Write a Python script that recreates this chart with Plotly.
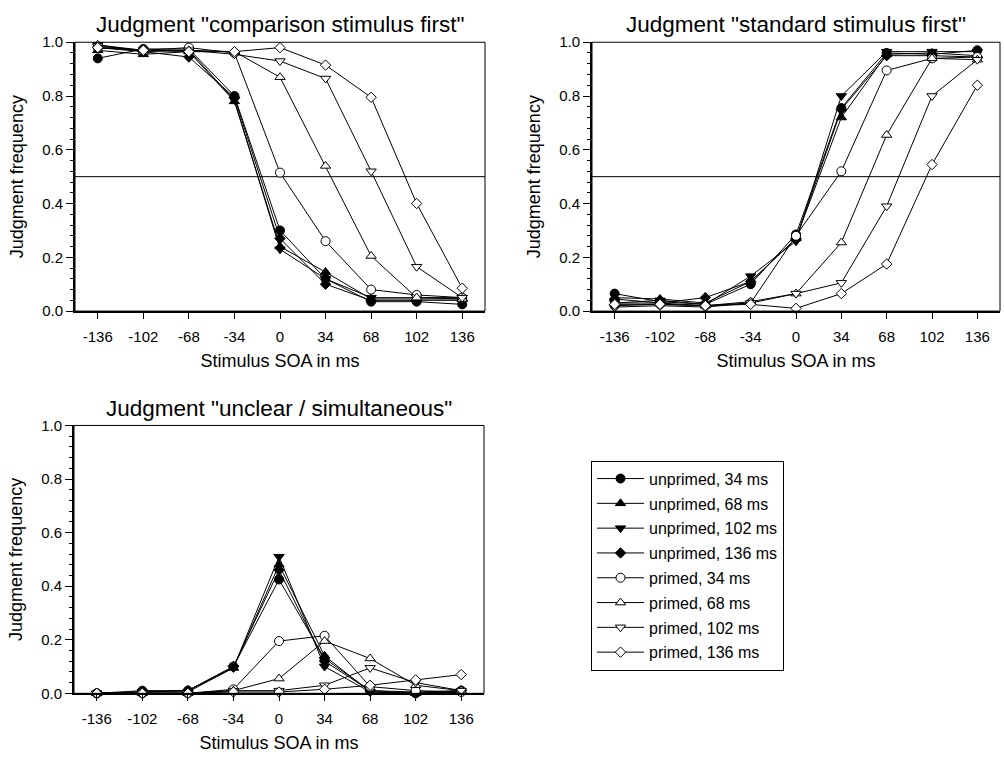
import plotly.graph_objects as go

# ---------------- data ----------------
soa = [-136, -102, -68, -34, 0, 34, 68, 102, 136]
soa_labels = ["-136", "-102", "-68", "-34", "0", "34", "68", "102", "136"]

series_names = ["unprimed, 34 ms", "unprimed, 68 ms", "unprimed, 102 ms", "unprimed, 136 ms",
                "primed, 34 ms", "primed, 68 ms", "primed, 102 ms", "primed, 136 ms"]

# Panel 1: Judgment "comparison stimulus first"
comp_u34 = [0.94, 0.975, 0.975, 0.80, 0.30, 0.12, 0.035, 0.035, 0.025]
comp_u68 = [0.97, 0.955, 0.965, 0.78, 0.24, 0.145, 0.045, 0.045, 0.045]
comp_u102 = [0.99, 0.97, 0.97, 0.785, 0.23, 0.12, 0.05, 0.05, 0.05]
comp_u136 = [0.98, 0.965, 0.945, 0.795, 0.27, 0.10, 0.04, 0.04, 0.04]
comp_p34 = [0.98, 0.97, 0.98, 0.96, 0.515, 0.26, 0.08, 0.06, 0.05]
comp_p68 = [0.99, 0.965, 0.97, 0.965, 0.87, 0.54, 0.205, 0.05, 0.045]
comp_p102 = [0.985, 0.97, 0.97, 0.955, 0.93, 0.865, 0.52, 0.165, 0.05]
comp_p136 = [0.98, 0.97, 0.965, 0.965, 0.98, 0.915, 0.795, 0.40, 0.085]

# Panel 2: Judgment "standard stimulus first"
std_u34 = [0.065, 0.035, 0.025, 0.10, 0.285, 0.755, 0.96, 0.955, 0.97]
std_u68 = [0.05, 0.045, 0.03, 0.11, 0.27, 0.72, 0.955, 0.96, 0.95]
std_u102 = [0.03, 0.04, 0.025, 0.13, 0.26, 0.80, 0.965, 0.965, 0.965]
std_u136 = [0.045, 0.03, 0.05, 0.11, 0.27, 0.75, 0.95, 0.95, 0.945]
std_p34 = [0.02, 0.025, 0.02, 0.03, 0.28, 0.52, 0.895, 0.94, 0.945]
std_p68 = [0.03, 0.03, 0.02, 0.035, 0.065, 0.255, 0.655, 0.94, 0.935]
std_p102 = [0.015, 0.02, 0.015, 0.03, 0.065, 0.105, 0.39, 0.80, 0.935]
std_p136 = [0.025, 0.025, 0.02, 0.025, 0.01, 0.065, 0.175, 0.545, 0.84]

# Panel 3: Judgment "unclear / simultaneous"
unc_u34 = [0.0, 0.01, 0.01, 0.10, 0.425, 0.13, 0.01, 0.0, 0.01]
unc_u68 = [0.0, 0.005, 0.01, 0.095, 0.48, 0.14, 0.005, 0.0, 0.005]
unc_u102 = [0.0, 0.005, 0.005, 0.095, 0.51, 0.10, 0.005, 0.0, 0.005]
unc_u136 = [0.0, 0.005, 0.01, 0.10, 0.46, 0.12, 0.01, 0.005, 0.01]
unc_p34 = [0.0, 0.0, 0.0, 0.015, 0.195, 0.215, 0.025, 0.01, 0.005]
unc_p68 = [0.0, 0.0, 0.0, 0.01, 0.055, 0.195, 0.13, 0.03, 0.01]
unc_p102 = [0.0, 0.0, 0.0, 0.01, 0.01, 0.03, 0.095, 0.04, 0.01]
unc_p136 = [0.0, 0.0, 0.0, 0.005, 0.005, 0.015, 0.03, 0.05, 0.07]

panel_titles = ['Judgment "comparison stimulus first"',
                'Judgment "standard stimulus first"',
                'Judgment "unclear / simultaneous"']

# ---------------- styles ----------------
FONT = "Liberation Sans, Arial, Helvetica, sans-serif"
symbols = ["circle", "triangle-up", "triangle-down", "diamond"] * 2
fills = ["black"] * 4 + ["white"] * 4
sizes = [9, 9, 9, 8, 9, 9, 9, 8]

panels = [
    ([comp_u34, comp_u68, comp_u102, comp_u136, comp_p34, comp_p68, comp_p102, comp_p136], "x", "y"),
    ([std_u34, std_u68, std_u102, std_u136, std_p34, std_p68, std_p102, std_p136], "x2", "y2"),
    ([unc_u34, unc_u68, unc_u102, unc_u136, unc_p34, unc_p68, unc_p102, unc_p136], "x3", "y3"),
]

fig = go.Figure()
for pi, (series, xa, ya) in enumerate(panels):
    for si, vals in enumerate(series):
        fig.add_trace(go.Scatter(
            x=soa, y=vals, mode="lines+markers", name=series_names[si],
            xaxis=xa, yaxis=ya, cliponaxis=False,
            showlegend=(pi == 2), legendgroup=series_names[si],
            line=dict(color="black", width=1),
            marker=dict(symbol=symbols[si], size=sizes[si], color=fills[si],
                        line=dict(color="black", width=1)),
        ))

W, H = 1004, 759
def px_x(p):
    return p / W
def px_y(p):
    return 1 - p / H

domains = [
    ((75, 485), (34, 309)),
    ((592, 1000), (34, 309)),
    ((74, 484), (426, 700)),
]

layout = dict(
    width=W, height=H,
    margin=dict(l=0, r=0, t=0, b=0),
    paper_bgcolor="white", plot_bgcolor="white",
    font=dict(family=FONT, color="black", size=15),
    showlegend=True,
    legend=dict(
        x=px_x(591), y=px_y(462), xanchor="left", yanchor="top",
        bordercolor="black", borderwidth=1, bgcolor="white",
        font=dict(family=FONT, size=16, color="black"),
        tracegroupgap=1, itemwidth=47,
    ),
)

shapes = []
annotations = []
for i, ((x0, x1), (y0, y1)) in enumerate(domains):
    sfx = "" if i == 0 else str(i + 1)
    layout["xaxis" + sfx] = dict(
        domain=[px_x(x0), px_x(x1)], anchor="y" + sfx,
        range=[-153, 153], tickmode="array", tickvals=soa, ticktext=soa_labels,
        ticks="outside", ticklen=6, tickwidth=1, tickcolor="black",
        showline=True, linewidth=2, linecolor="black",
        showgrid=False, zeroline=False,
        tickfont=dict(size=15), ticklabelstandoff=5,
        title=dict(text="Stimulus SOA in ms", font=dict(size=18), standoff=10),
    )
    layout["yaxis" + sfx] = dict(
        domain=[px_y(y1), px_y(y0)], anchor="x" + sfx,
        range=[0, 1], dtick=0.2, tick0=0, tickformat=".1f",
        ticks="outside", ticklen=7, tickwidth=1, tickcolor="black",
        minor=dict(dtick=0.04, ticks="outside", ticklen=3, tickwidth=1, tickcolor="black", showgrid=False),
        showline=True, linewidth=2, linecolor="black",
        showgrid=False, zeroline=False,
        tickfont=dict(size=15),
        title=dict(text="Judgment frequency", font=dict(size=18), standoff=14),
    )
    xr = "x" + sfx + " domain" if sfx else "x domain"
    yr = "y" + sfx + " domain" if sfx else "y domain"
    shapes.append(dict(type="rect", xref=xr, yref=yr, x0=0, x1=1, y0=0, y1=1,
                       line=dict(color="black", width=1), layer="above"))
    if i < 2:
        shapes.append(dict(type="line", xref=xr, yref="y" + sfx, x0=0, x1=1, y0=0.5, y1=0.5,
                           line=dict(color="black", width=1), layer="below"))
    annotations.append(dict(
        text=panel_titles[i], xref="paper", yref="paper",
        x=px_x((x0 + x1) / 2), y=px_y(y0 - 3), xanchor="center", yanchor="bottom",
        showarrow=False, font=dict(size=22.5, family=FONT, color="black"),
    ))

layout["shapes"] = shapes
layout["annotations"] = annotations
fig.update_layout(**layout)

fig.write_html("out.html")
